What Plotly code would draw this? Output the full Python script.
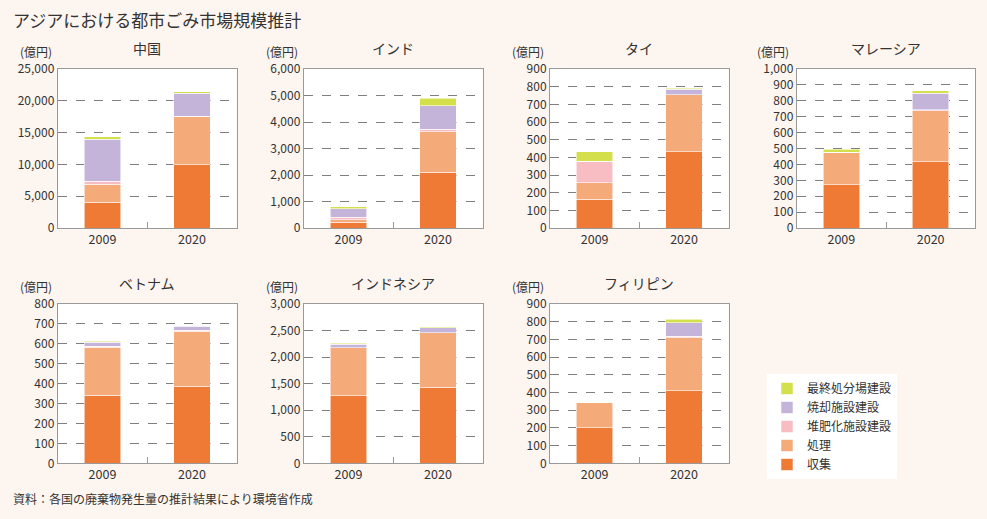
import plotly.graph_objects as go

countries = ["中国", "インド", "タイ", "マレーシア", "ベトナム", "インドネシア", "フィリピン"]
years = ["2009", "2020"]
y_max = [25000, 6000, 900, 1000, 800, 3000, 900]
y_step = [5000, 1000, 100, 100, 100, 500, 100]

# segment values (億円) per country: [2009, 2020]
collection = [[4040, 9950], [213, 2110], [162, 431], [272, 416], [341, 387], [1268, 1431], [200, 410]]
treatment = [[2830, 7650], [100, 1520], [94, 322], [203, 322], [243, 277], [904, 1030], [141, 298]]
compost = [[520, 0], [90, 90], [121, 0], [0, 5], [3, 4], [0, 0], [0, 9]]
incineration = [[6560, 3580], [320, 890], [0, 32], [0, 104], [21, 20], [69, 88], [0, 76]]
landfill = [[410, 250], [85, 280], [54, 6], [19, 15], [6, 3], [19, 18], [0, 20]]

series_names = ["収集", "処理", "堆肥化施設建設", "焼却施設建設", "最終処分場建設"]
series_data = [collection, treatment, compost, incineration, landfill]
series_colors = ["#EE7A35", "#F4AB79", "#F7BDC3", "#C5B4D9", "#D3DF4B"]

W, H = 987, 519
FONT = "Noto Sans CJK JP"
TXT = "#333333"

col_x = [(57.7, 236.7), (303.7, 482.7), (550.0, 728.7), (796.7, 975.3)]
row_y = [(69.0, 228.0), (304.0, 463.3)]
label_x = [36, 282, 528, 773]
title_y = [48, 283]
unit_y = [51, 286]

fig = go.Figure()
annotations = []
layout_axes = {}

for i, c in enumerate(countries):
    r, col = divmod(i, 4)
    ax = "" if i == 0 else str(i + 1)
    x0, x1 = col_x[col]
    y0, y1 = row_y[r]
    for s, name in enumerate(series_names):
        fig.add_trace(go.Bar(
            x=years, y=series_data[s][i], name=name,
            marker=dict(color=series_colors[s], line=dict(color="rgba(255,255,255,0.7)", width=0.8)),
            xaxis="x" + ax, yaxis="y" + ax, showlegend=(i == 0),
            legendrank=10 - s,
        ))
    layout_axes["xaxis" + ax] = dict(
        domain=[x0 / W, x1 / W], anchor="y" + ax, type="category", range=[-0.5, 1.5],
        showline=True, mirror=True, linecolor="#9a9a9a", linewidth=1, automargin=False,
        ticks="inside", tickson="boundaries", ticklen=6, tickcolor="#9a9a9a",
        showgrid=False, tickfont=dict(family=FONT, size=12.5, color=TXT),
    )
    layout_axes["yaxis" + ax] = dict(
        domain=[1 - y1 / H, 1 - y0 / H], anchor="x" + ax, range=[0, y_max[i]],
        dtick=y_step[i], tickformat=",", showline=True, mirror=True, automargin=False,
        linecolor="#9a9a9a", linewidth=1, showgrid=True, gridcolor="#7f7f7f",
        griddash="dash", gridwidth=1, zeroline=False, ticks="",
        tickfont=dict(family=FONT, size=12, color=TXT),
    )
    annotations.append(dict(text=c, x=(x0 + x1) / 2 / W, y=1 - title_y[r] / H, xref="paper", yref="paper",
                            showarrow=False, xanchor="center", yanchor="middle",
                            font=dict(family=FONT, size=14, color=TXT)))
    annotations.append(dict(text="(億円)", x=label_x[col] / W, y=1 - unit_y[r] / H, xref="paper", yref="paper",
                            showarrow=False, xanchor="center", yanchor="middle",
                            font=dict(family=FONT, size=12, color=TXT)))

annotations.append(dict(text="アジアにおける都市ごみ市場規模推計", x=11 / W, y=1 - 19 / H, xref="paper", yref="paper",
                        showarrow=False, xanchor="left", yanchor="middle",
                        font=dict(family=FONT, size=17, color=TXT)))
annotations.append(dict(text="資料：各国の廃棄物発生量の推計結果により環境省作成", x=11 / W, y=1 - 498 / H,
                        xref="paper", yref="paper", showarrow=False, xanchor="left", yanchor="middle",
                        font=dict(family=FONT, size=12, color=TXT)))

fig.update_layout(
    width=W, height=H, margin=dict(l=0, r=0, t=0, b=0, pad=0), autosize=False,
    paper_bgcolor="#FDF5EF", plot_bgcolor="#FFFFFF",
    barmode="stack", bargap=0.59,
    annotations=annotations,
    legend=dict(x=767 / W, y=1 - 374 / H, xanchor="left", yanchor="top", bgcolor="#FFFFFF",
                font=dict(family=FONT, size=12, color=TXT), itemwidth=30, tracegroupgap=0,
                traceorder="normal"),
    **layout_axes,
)

fig.write_html(
    "out.html",
    config={"responsive": False, "displayModeBar": False},
    post_script="var d=document;d.documentElement.style.margin='0';d.documentElement.style.overflow='hidden';"
                "d.body.style.margin='0';d.body.style.padding='0';d.body.style.overflow='hidden';"
                "d.body.style.height='519px';d.documentElement.style.height='519px';"
                "d.body.style.background='#FDF5EF';",
)
